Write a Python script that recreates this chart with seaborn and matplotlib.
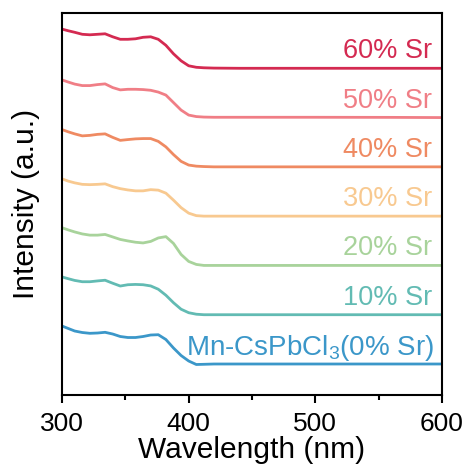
import numpy as np
import pandas as pd
import seaborn as sns
import matplotlib.pyplot as plt

#%% data (intensity in a.u., 0 = flat tail)
wavelength = [300, 305, 310, 316, 322, 328, 334, 340, 346, 352, 358, 364, 370,
              376, 382, 388, 394, 400, 406, 412, 420, 440, 500, 560, 600]

sr0 = [38, 35.5, 33, 31.5, 30.7, 31, 31.7, 30, 27.5, 26.5, 26.5, 27.5, 29,
       29.3, 24.5, 16, 8.5, 3, -0.5, -0.3, 0, 0, 0, 0, 0]
sr10 = [37.8, 36, 34.3, 33, 33, 33.8, 34.5, 31.5, 28.7, 30, 30.3, 30, 28.8,
        25.5, 19.5, 12, 5.5, 2, 0.5, 0, 0, 0, 0, 0, 0]
sr20 = [37.7, 35.5, 33.5, 31.5, 30.3, 30.3, 31, 28.5, 26, 24.5, 23.2, 22.5, 24,
        27.5, 28.8, 22, 11, 4, 1, 0, 0, 0, 0, 0, 0]
sr30 = [37.3, 35, 33.3, 31.8, 31.5, 31.8, 32.3, 29.5, 27.5, 26.2, 25.3, 25.3, 26.5,
        26, 23, 16, 8.5, 3, 0.5, 0, 0, 0, 0, 0, 0]
sr40 = [37.3, 35, 33, 31, 31.5, 32.5, 33, 29.5, 26.5, 27.3, 28, 28.3, 28.3,
        25.5, 20, 12.3, 5.5, 1.8, 0.7, 0.3, 0, 0, 0, 0, 0]
sr50 = [37.7, 35.5, 33.5, 32, 32, 33, 33.7, 30, 27.7, 28.3, 28.3, 28, 27.3,
        25.5, 22.5, 15, 7.5, 2.5, 1, 0.5, 0.3, 0.3, 0.3, 0.2, 0]
sr60 = [39.2, 37.5, 36, 34, 33.5, 34, 34.5, 31.5, 29, 29, 29.5, 31, 31.5,
        29, 23, 14.5, 7.5, 2.5, 1, 0.5, 0.2, 0, 0, 0, 0]

samples = ['0% Sr', '10% Sr', '20% Sr', '30% Sr', '40% Sr', '50% Sr', '60% Sr']
labels = [r'Mn-CsPbCl$_\mathregular{3}$(0% Sr)', '10% Sr', '20% Sr', '30% Sr',
          '40% Sr', '50% Sr', '60% Sr']
spectra = [sr0, sr10, sr20, sr30, sr40, sr50, sr60]

colors = ['#3b97c9', '#62bbb3', '#a8d39b', '#f8c990', '#ef8a62', '#f07e86', '#d42a51']

offset = 49.3  # vertical stacking step

#%% tidy frame
dfList = []
for i, (name, vals) in enumerate(zip(samples, spectra)):
    d = pd.DataFrame({'wavelength': wavelength, 'intensity': vals})
    d['shifted'] = d['intensity'] + i * offset
    d['sample'] = name
    dfList.append(d)
dfPlot = pd.concat(dfList, ignore_index=True)

#%% plot
sns.set_style('ticks', {'axes.edgecolor': 'black', 'text.color': 'black',
                        'axes.labelcolor': 'black', 'xtick.color': 'black'})
plt.rcParams['font.family'] = ['Liberation Sans', 'DejaVu Sans']
plt.rcParams['mathtext.fontset'] = 'custom'
plt.rcParams['mathtext.rm'] = 'Liberation Sans'

fig = plt.figure(figsize=(4.67, 4.68), dpi=100)
ax = fig.add_axes([0.1328, 0.156, 0.8137, 0.816])

sns.lineplot(data=dfPlot, x='wavelength', y='shifted', hue='sample', hue_order=samples,
             palette=colors, legend=False, lw=2, estimator=None, sort=False, ax=ax)

for i, (lab, c) in enumerate(zip(labels, colors)):
    if i == 0:
        ax.text(594, 9, lab, color=c, fontsize=20, ha='right', va='baseline')
    else:
        ax.text(592, i * offset + 10, lab, color=c, fontsize=19.5, ha='right', va='baseline')

ax.set_xlim(300, 600)
ax.set_ylim(-31, 351)
ax.set_xticks([300, 400, 500, 600])
ax.set_xticks([350, 450, 550], minor=True)
ax.set_yticks([])
ax.tick_params(axis='x', which='major', direction='out', length=6, width=1.5, labelsize=19, pad=6)
ax.tick_params(axis='x', which='minor', direction='out', length=3.5, width=1.5)
for s in ax.spines.values():
    s.set_linewidth(1.5)
ax.set_xlabel('Wavelength (nm)', fontsize=21.5, labelpad=0)
ax.set_ylabel('Intensity (a.u.)', fontsize=21.5, labelpad=16)

fig.savefig('out.png', dpi=100)
